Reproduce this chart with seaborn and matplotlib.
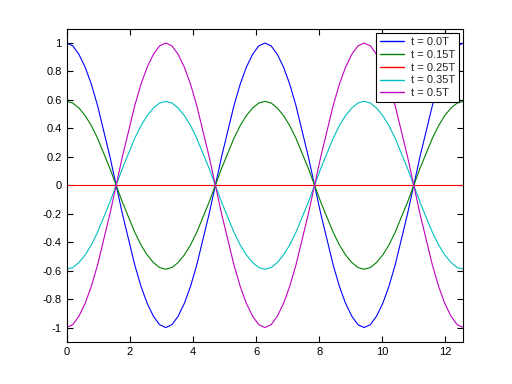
import numpy as np
import pandas as pd
import seaborn as sns
import matplotlib.pyplot as plt
from matplotlib.ticker import FuncFormatter

# --- data ---
# one period of the base wave, sampled every pi/16
period = [1.00, 0.98, 0.92, 0.83, 0.71, 0.56, 0.38, 0.20, 0.00,
          -0.20, -0.38, -0.56, -0.71, -0.83, -0.92, -0.98, -1.00,
          -0.98, -0.92, -0.83, -0.71, -0.56, -0.38, -0.20, 0.00,
          0.20, 0.38, 0.56, 0.71, 0.83, 0.92, 0.98, 1.00]
base = period[:-1] + period          # two periods, 0 .. 4*pi
x_vals = np.linspace(0, 12.566, len(base))

labels = ['t = 0.0T', 't = 0.15T', 't = 0.25T', 't = 0.35T', 't = 0.5T']
amplitudes = [1.0, 0.59, 0.0, -0.59, -1.0]
colors = ['#0000ff', '#008000', '#ff0000', '#00bfbf', '#bf00bf']

rows = []
for lab, amp in zip(labels, amplitudes):
    for xv, b in zip(x_vals, base):
        rows.append({'x': xv, 'y': amp * b + 0.0, 'series': lab})
df = pd.DataFrame(rows)

sns.set_style("ticks")
plt.rcParams['font.family'] = ['Liberation Sans', 'DejaVu Sans']

fig = plt.figure(figsize=(5.12, 3.84), dpi=100)
ax = fig.add_axes([0.13, 0.11, 0.775, 0.815])

sns.lineplot(data=df, x='x', y='y', hue='series', hue_order=labels,
             palette=dict(zip(labels, colors)), linewidth=0.8,
             estimator=None, sort=False, ax=ax)

ax.set_xlim(0, 12.566)
ax.set_ylim(-1.1, 1.1)
ax.set_xticks(range(0, 13, 2))
ax.set_yticks(np.round(np.arange(-1, 1.01, 0.2), 1))
ax.yaxis.set_major_formatter(FuncFormatter(lambda v, p: f"{round(v, 1) + 0.0:g}"))
ax.set_xlabel('')
ax.set_ylabel('')
ax.tick_params(direction='in', length=4, width=0.8, labelsize=8,
               top=True, right=True, colors='black')
for s in ax.spines.values():
    s.set_visible(True)
    s.set_color('black')
    s.set_linewidth(0.8)

leg = ax.legend(loc='upper right', fontsize=8, frameon=True, fancybox=False,
                edgecolor='black', framealpha=1, handlelength=2.2,
                handletextpad=0.6, borderaxespad=0.4, labelspacing=0.25,
                borderpad=0.35)
leg.get_frame().set_linewidth(0.8)
for h in leg.get_lines():
    h.set_linewidth(1.0)

fig.savefig('out.png', dpi=100, facecolor='white')
